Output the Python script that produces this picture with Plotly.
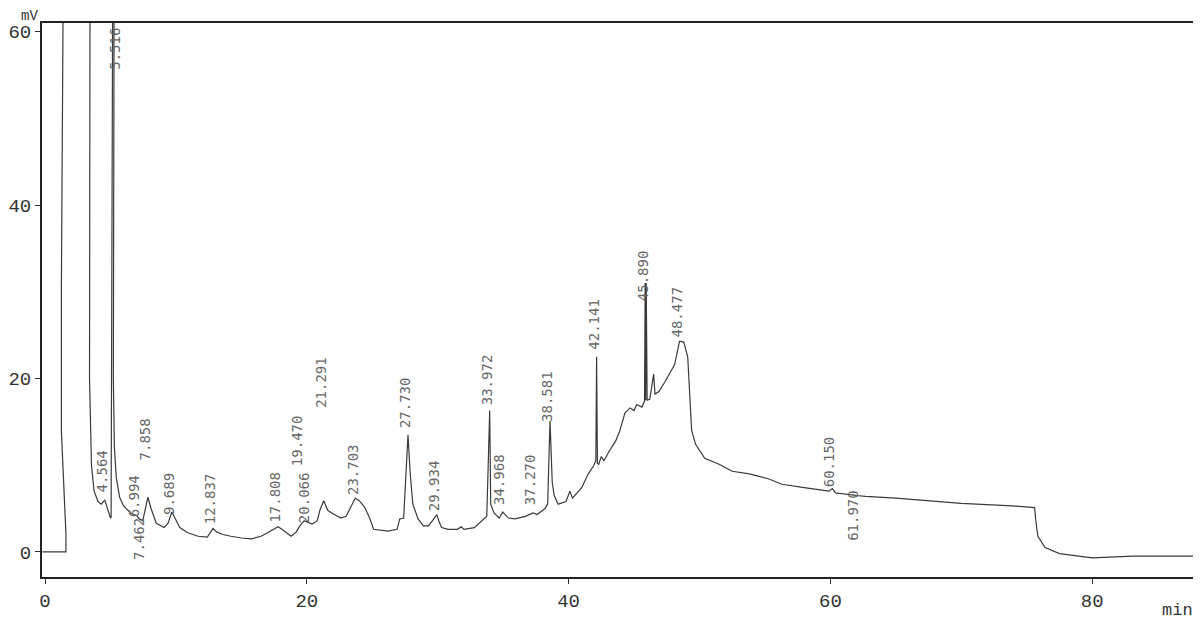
import plotly.graph_objects as go

# ---- data (time in min, signal in mV) ----
front_t = [-0.2, 1.6, 1.6, 1.4, 1.25, 1.25, 1.35, 1.45, 1.45]
front_mv = [0.0, 0.0, 2.0, 8.0, 14.0, 30.0, 50.0, 62.0, 80.0]

trace_t = [3.45, 3.4, 3.4, 3.55, 3.75, 4.05, 4.3, 4.564, 4.75, 4.9, 5.0,
           5.05, 5.08, 5.15, 5.2, 5.3, 5.25, 5.22, 5.3, 5.45, 5.7, 6.0, 6.6,
           6.994, 7.2, 7.462, 7.6, 7.858, 8.1, 8.5, 9.1, 9.4, 9.689, 9.9,
           10.3, 10.9, 11.7, 12.4, 12.6, 12.837, 13.1, 13.6, 14.2, 15.0,
           15.8, 16.5, 17.0, 17.5, 17.808, 18.2, 18.8, 19.2, 19.47, 19.8,
           20.066, 20.4, 20.8, 21.0, 21.291, 21.6, 22.0, 22.6, 23.0, 23.3,
           23.703, 24.0, 24.4, 24.8, 25.1, 26.2, 26.9, 27.1, 27.4, 27.73,
           27.9, 28.1, 28.5, 28.9, 29.3, 29.6, 29.934, 30.1, 30.3, 30.8,
           31.5, 31.8, 32.0, 32.8, 33.4, 33.75, 33.972, 34.05, 34.3, 34.7,
           34.968, 35.4, 35.9, 36.7, 37.27, 37.6, 38.2, 38.4, 38.581, 38.75,
           38.9, 39.2, 39.8, 40.1, 40.3, 41.0, 41.5, 41.9, 42.08, 42.141,
           42.2, 42.3, 42.5, 42.7, 43.1, 43.6, 43.9, 44.3, 44.7, 45.0, 45.2,
           45.6, 45.8, 45.85, 45.89, 45.93, 46.0, 46.2, 46.5, 46.6, 46.9,
           47.4, 48.1, 48.477, 48.8, 49.1, 49.4, 49.7, 50.4, 51.5, 52.5,
           53.8, 55.3, 56.3, 58.0, 59.9, 60.15, 60.4, 61.97, 62.7, 65.0,
           67.8, 70.0, 73.9, 75.6, 75.7, 75.85, 76.4, 77.5, 80.0, 83.1, 88.4]
trace_mv = [80.0, 40.0, 20.0, 10.0, 7.0, 5.8, 5.5, 6.0, 5.0, 4.2, 3.9,
            4.0, 20.0, 62.0, 80.0, 80.0, 40.0, 20.0, 12.0, 8.5, 6.3, 5.3, 4.4,
            4.2, 3.8, 3.6, 4.5, 6.3, 5.0, 3.3, 2.8, 3.3, 4.6, 4.0,
            2.8, 2.2, 1.8, 1.7, 2.2, 2.7, 2.3, 2.0, 1.8, 1.6,
            1.5, 1.8, 2.2, 2.6, 2.9, 2.5, 1.8, 2.3, 3.0, 3.6,
            3.4, 3.2, 3.6, 4.8, 5.9, 4.8, 4.4, 3.9, 4.1, 5.0,
            6.2, 5.9, 5.2, 3.9, 2.6, 2.4, 2.6, 3.8, 3.9, 13.5,
            9.0, 5.5, 3.8, 3.0, 3.0, 3.6, 4.3, 3.5, 2.8, 2.6,
            2.6, 2.9, 2.6, 2.8, 3.6, 4.1, 16.3, 5.5, 4.5, 3.9,
            4.6, 3.9, 3.8, 4.1, 4.5, 4.3, 5.0, 5.5, 15.1, 8.0,
            6.5, 5.5, 5.8, 7.0, 6.2, 7.4, 9.0, 9.9, 10.5, 22.5,
            10.2, 10.1, 11.0, 10.5, 11.6, 12.8, 13.9, 16.0, 16.6, 16.3, 17.0,
            16.7, 17.4, 31.0, 17.5, 31.0, 17.5, 17.6, 20.5, 18.2, 18.5,
            19.7, 21.6, 24.3, 24.2, 22.5, 14.0, 12.4, 10.8, 10.1, 9.3,
            9.0, 8.4, 7.8, 7.4, 7.0, 7.3, 6.8, 6.5, 6.4, 6.2,
            5.9, 5.6, 5.3, 5.1, 3.5, 1.8, 0.5, -0.2, -0.7, -0.5, -0.5]

peak_rt = ["4.564", "5.516", "6.994", "7.462", "7.858", "9.689", "12.837",
           "17.808", "19.470", "20.066", "21.291", "23.703", "27.730",
           "29.934", "33.972", "34.968", "37.270", "38.581", "42.141",
           "45.890", "48.477", "60.150", "61.970"]
label_base = [6.6, 55.4, 3.7, -1.2, 10.3, 4.0, 2.9,
              3.1, 9.7, 3.1, 16.4, 6.3, 14.1,
              4.5, 16.7, 5.2, 5.2, 14.7, 23.1,
              28.7, 24.5, 7.2, 1.0]

x_ticks = [0, 20, 40, 60, 80]
y_ticks = [0, 20, 40, 60]

MONO = "Liberation Mono"
INK = "#333333"

fig = go.Figure()
line_style = dict(color="#3a3a3a", width=1.2)
fig.add_trace(go.Scatter(x=front_t, y=front_mv, mode="lines", line=line_style,
                         hoverinfo="skip", showlegend=False))
fig.add_trace(go.Scatter(x=trace_t, y=trace_mv, mode="lines", line=line_style,
                         hoverinfo="skip", showlegend=False))

for rt, base in zip(peak_rt, label_base):
    fig.add_annotation(x=float(rt), y=base, xref="x", yref="y", text=rt,
                       showarrow=False, textangle=-90, xanchor="center",
                       yanchor="bottom", xshift=-3,
                       font=dict(family="DejaVu Sans Mono", size=14, color="#666666"))

# axis unit labels
fig.add_annotation(x=-0.0104, y=1.0135, xref="paper", yref="paper", text="mV",
                   showarrow=False, xanchor="center", yanchor="middle",
                   font=dict(family=MONO, size=14, color=INK))
fig.add_annotation(x=0.981, y=-0.061, xref="paper", yref="paper", text="min",
                   showarrow=False, xanchor="center", yanchor="middle",
                   font=dict(family=MONO, size=17, color=INK))

# the page body has an 8px margin, so the figure is sized/offset to compensate
fig.update_layout(
    width=1193, height=614,
    margin=dict(l=34, r=2, t=15, b=45),
    paper_bgcolor="white", plot_bgcolor="white",
    font=dict(family=MONO, size=19, color=INK),
)

axis_common = dict(ticks="outside", ticklen=5, tickcolor=INK, showline=True,
                   linecolor="#222222", linewidth=2, mirror=True, showgrid=False,
                   zeroline=False, automargin=False,
                   tickfont=dict(family=MONO, size=19, color=INK))
fig.update_xaxes(range=[-0.23, 88.16], tickvals=x_ticks, **axis_common)
fig.update_yaxes(range=[-2.9, 61.0], tickvals=y_ticks, **axis_common)

fig.write_html("out.html")
